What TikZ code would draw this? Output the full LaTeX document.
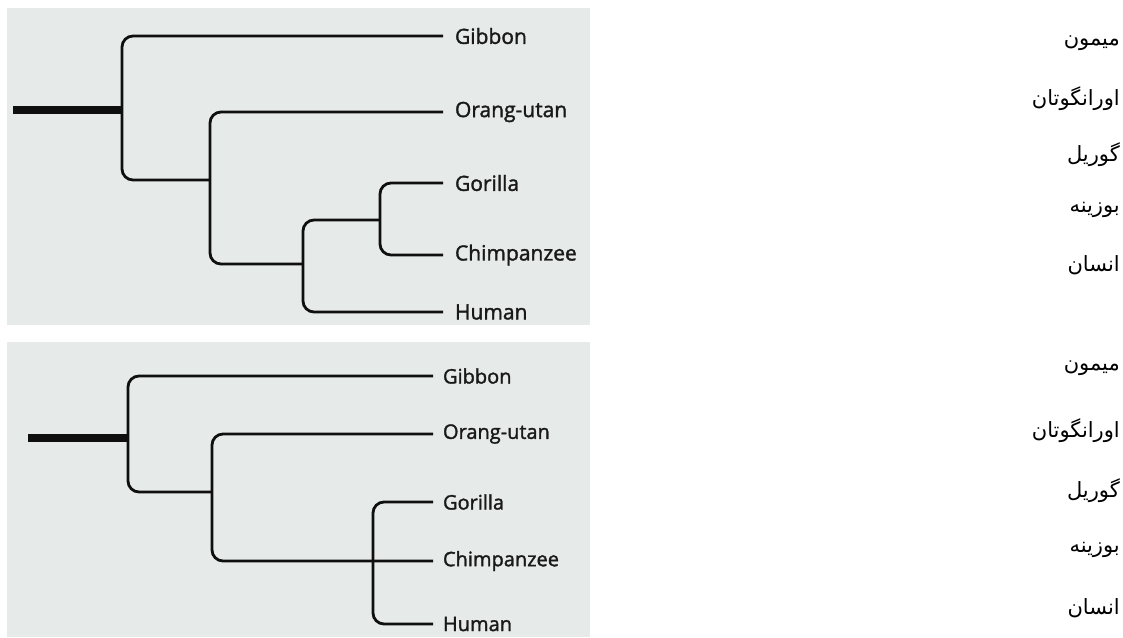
\documentclass[tikz,border=0pt]{standalone}
\usepackage{fontspec}
\setmainfont{Open Sans}
\newfontfamily\arabicfont[Script=Arabic]{DejaVu Sans}
\newfontfamily\labelfont[FakeBold=1.6]{Open Sans}
\TeXXeTstate=1
\definecolor{panelbg}{RGB}{230,234,232}
\definecolor{ink}{RGB}{15,15,15}
\definecolor{labelink}{RGB}{25,25,25}
\tikzset{
  branch/.style={draw=ink, line width=2.8pt, rounded corners=11pt},
  rootline/.style={draw=ink, line width=8pt},
  leaf/.style={anchor=west, inner xsep=0pt, inner ysep=0pt, outer xsep=0pt, text=labelink,
    font=\labelfont\fontsize{21}{24}\selectfont},
  leafb/.style={leaf, font=\labelfont\fontsize{20}{23}\selectfont},
  fa/.style={anchor=east, inner sep=0pt, text=black, font=\arabicfont\fontsize{21}{24}\selectfont},
  panel/.style={fill=panelbg, draw=none}
}
\begin{document}
\begin{tikzpicture}[x=1pt, y=-1pt]
\useasboundingbox (0,0) rectangle (1123,637);
\fill[white] (0,0) rectangle (1123,637);
% panels
\path[panel] (7,8) rectangle (590,325);
\path[panel] (7,342) rectangle (590,637);

% ---------- top tree ----------
\node[leaf] (gib) at (443,36) {\hspace{12pt}Gibbon};
\node[leaf] (ora) at (443,112) {\hspace{12pt}Orang-utan};
\node[leaf] (gor) at (443,183) {\hspace{12pt}Gorilla};
\node[leaf] (chi) at (443,255) {\hspace{12pt}Chimpanzee};
\node[leaf] (hum) at (443,312) {\hspace{12pt}Human};
\coordinate (r0) at (13,110);
\coordinate (n1) at (122,110);
\coordinate (n2) at (210,180);
\coordinate (n3) at (303,264);
\coordinate (n4) at (380,220);
\draw[rootline] (r0) -- (n1);
\draw[branch] (gib.west) -| (n1) |- (n2);
\draw[branch] (ora.west) -| (n2) |- (n3);
\draw[branch] (n4) -| (n3) |- (hum.west);
\draw[branch] (gor.west) -| (n4) |- (chi.west);

% ---------- bottom tree ----------
\node[leafb] (gibb) at (433,376) {\hspace{10pt}Gibbon};
\node[leafb] (orab) at (433,434) {\hspace{10pt}Orang-utan};
\node[leafb] (gorb) at (433,502) {\hspace{10pt}Gorilla};
\node[leafb] (chib) at (433,561) {\hspace{10pt}Chimpanzee};
\node[leafb] (humb) at (433,624) {\hspace{10pt}Human};
\coordinate (s0) at (28,438);
\coordinate (m1) at (128,438);
\coordinate (m2) at (212,492);
\coordinate (m3) at (373,561);
\draw[rootline] (s0) -- (m1);
\draw[branch] (gibb.west) -| (m1) |- (m2);
\draw[branch] (orab.west) -| (m2) |- (chib.west);
\draw[branch] (gorb.west) -| (m3) |- (humb.west);

% ---------- Persian labels ----------
\node[fa] (fa1) at (1120,43) {\beginR میمون\endR};
\node[fa] (fa2) at (1120,99) {\beginR اورانگوتان\endR};
\node[fa] (fa3) at (1120,155) {\beginR گوریل\endR};
\node[fa] (fa4) at (1120,210) {\beginR بوزینه\endR};
\node[fa] (fa5) at (1120,265) {\beginR انسان\endR};
\node[fa] (fa6) at (1120,368) {\beginR میمون\endR};
\node[fa] (fa7) at (1120,431) {\beginR اورانگوتان\endR};
\node[fa] (fa8) at (1120,491) {\beginR گوریل\endR};
\node[fa] (fa9) at (1120,550) {\beginR بوزینه\endR};
\node[fa] (fa10) at (1120,608) {\beginR انسان\endR};
\end{tikzpicture}
\end{document}
